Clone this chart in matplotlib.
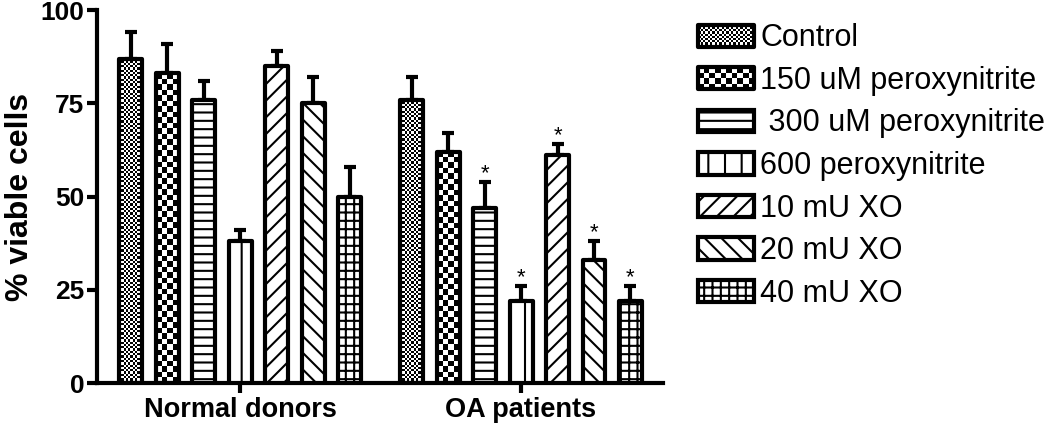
import numpy as np
import matplotlib
matplotlib.use("Agg")
from matplotlib import pyplot as plt
from matplotlib.patches import Rectangle, Patch
from matplotlib.legend_handler import HandlerBase

plt.rcParams['font.family'] = ['Liberation Sans', 'DejaVu Sans']
plt.rcParams['hatch.linewidth'] = 1.5

groups = ['Normal donors', 'OA patients']
series = ['Control', '150 uM peroxynitrite', ' 300 uM peroxynitrite', '600 peroxynitrite',
          '10 mU XO', '20 mU XO', '40 mU XO']
normal = [87, 83, 76, 38, 85, 75, 50]
normal_err = [7, 8, 5, 3, 4, 7, 8]
oa = [76, 62, 47, 22, 61, 33, 22]
oa_err = [6, 5, 7, 4, 3, 5, 4]
oa_sig = [False, False, True, True, True, True, True]

# checker cell size in px (None -> plain hatch)
checker = [2.3, 5.5, None, None, None, None, None]
hatches = [None, None, '--', '|', '//', '\\\\', '++']

group_pos = [0, 7.7]
width = 0.63
lw = 3

fig = plt.figure(figsize=(10.5, 4.26), dpi=100)
ax = fig.add_axes([0.0924, 0.1009, 0.539, 0.8756])
ax.set_xlim(-3.92, 11.59)
ax.set_ylim(0, 100)


def checker_fill(ax, bar, cell_px):
    x0, y0 = bar.get_x(), bar.get_y()
    w, h = bar.get_width(), bar.get_height()
    (px0, py0), (px1, py1) = ax.transData.transform([(x0, y0), (x0 + w, y0 + h)])
    nx = max(1, int(round((px1 - px0) / cell_px)))
    ny = max(1, int(round((py1 - py0) / cell_px)))
    grid = np.add.outer(np.arange(ny), np.arange(nx)) % 2
    im = ax.imshow(grid, extent=(x0, x0 + w, y0, y0 + h), cmap='gray', vmin=0, vmax=1,
                   interpolation='nearest', aspect='auto', zorder=2)
    im.set_clip_path(bar)


class HandlerChecker(HandlerBase):
    def __init__(self, cell):
        super().__init__()
        self.cell = cell

    def create_artists(self, legend, orig_handle, xdescent, ydescent, width, height,
                       fontsize, trans):
        x0, y0 = -xdescent, -ydescent
        arts = [Rectangle((x0, y0), width, height, facecolor='black', edgecolor='none',
                          transform=trans)]
        nx = max(1, int(round(width / self.cell)))
        ny = max(1, int(round(height / self.cell)))
        cw, ch = width / nx, height / ny
        for i in range(nx):
            for j in range(ny):
                if (i + j) % 2:
                    arts.append(Rectangle((x0 + i * cw, y0 + j * ch), cw, ch,
                                          facecolor='white', edgecolor='none', transform=trans))
        arts.append(Rectangle((x0, y0), width, height, facecolor='none', edgecolor='black',
                              lw=lw, joinstyle='round', transform=trans))
        return arts


offsets = np.arange(len(series)) - (len(series) - 1) / 2
handles = []
handler_map = {}
for i, name in enumerate(series):
    xs = [g + offsets[i] for g in group_pos]
    hs = [normal[i], oa[i]]
    es = [normal_err[i], oa_err[i]]
    ax.errorbar(xs, hs, yerr=[[0, 0], es], fmt='none', ecolor='black', elinewidth=lw,
                capsize=4.5, capthick=lw, zorder=1)
    if checker[i]:
        bars = ax.bar(xs, hs, width, facecolor='none', edgecolor='black', lw=lw, zorder=3,
                      joinstyle='round')
        for b in bars:
            checker_fill(ax, b, checker[i])
        h = Patch(facecolor='black', edgecolor='black')
        handler_map[h] = HandlerChecker(checker[i] / 1.389)
    else:
        ax.bar(xs, hs, width, facecolor='white', edgecolor='black', lw=lw, hatch=hatches[i],
               zorder=3, joinstyle='round')
        h = Patch(facecolor='white', edgecolor='black', lw=lw, hatch=hatches[i], joinstyle='round')
    handles.append(h)

for i in range(len(series)):
    if oa_sig[i]:
        ax.annotate('*', (group_pos[1] + offsets[i], oa[i] + oa_err[i]), xytext=(0, 2),
                    textcoords='offset points', ha='center', va='baseline', fontsize=16)

ax.set_xlim(-3.92, 11.59)
ax.set_ylim(0, 100)
ax.set_yticks([0, 25, 50, 75, 100])
ax.set_xticks(group_pos)
ax.set_xticklabels(groups, fontsize=19.5, fontweight='bold')
for t in ax.get_yticklabels():
    t.set_fontsize(19)
    t.set_fontweight('bold')
ax.tick_params(axis='both', length=7, width=lw, direction='out')
ax.tick_params(axis='y', pad=2)
ax.tick_params(axis='x', pad=3)
ax.set_ylabel('% viable cells', fontsize=23, fontweight='bold', labelpad=4)
for s in ['top', 'right']:
    ax.spines[s].set_visible(False)
for s in ['left', 'bottom']:
    ax.spines[s].set_linewidth(lw)

fig.legend(handles, series, handler_map=handler_map, loc='upper left',
           bbox_to_anchor=(0.665, 0.945), frameon=False, fontsize=22, borderpad=0,
           handlelength=1.83, handleheight=0.75, handletextpad=0.2, labelspacing=0.41,
           borderaxespad=0)

fig.savefig('out.png', dpi=100)
